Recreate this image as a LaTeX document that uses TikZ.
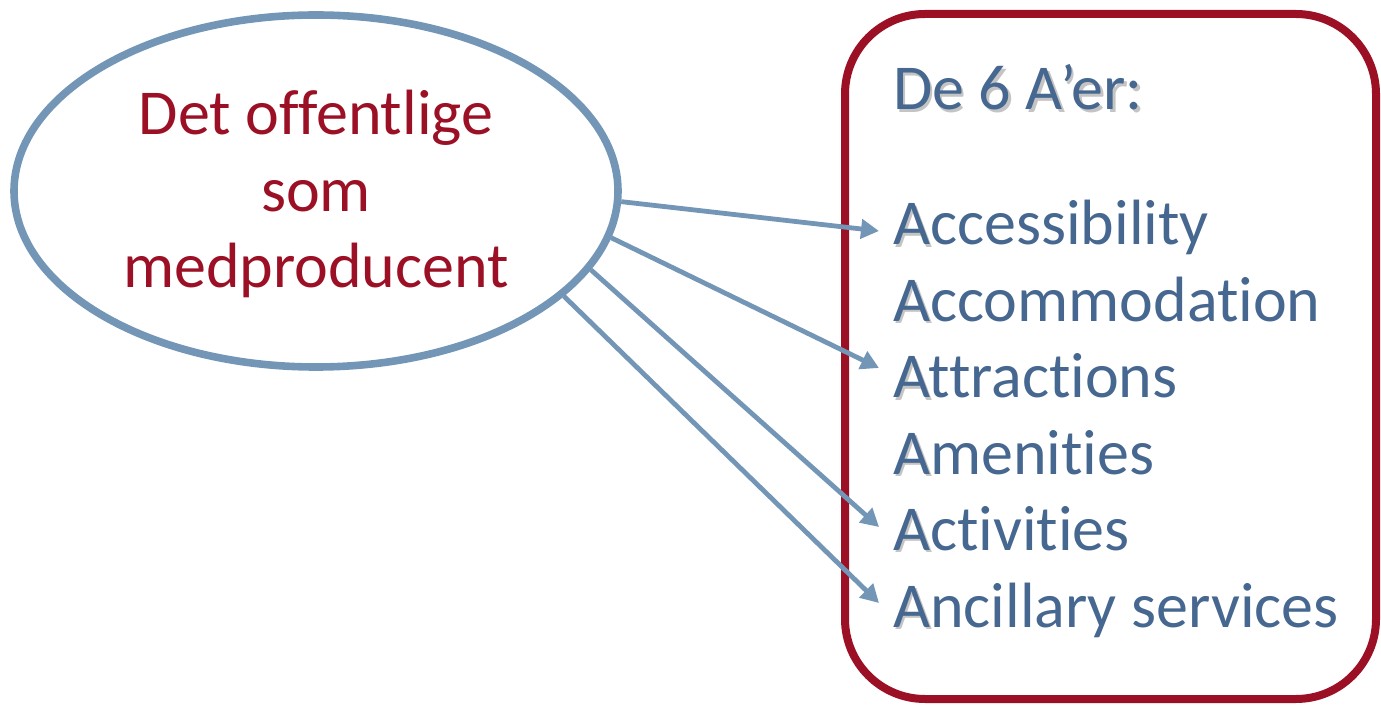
\documentclass[tikz,border=0pt]{standalone}
\usepackage{fontspec}
\setmainfont{Carlito}[Ligatures={CommonOff}]
\usetikzlibrary{arrows.meta,shapes.geometric}
\definecolor{ellblue}{HTML}{7396B7}
\definecolor{darkred}{HTML}{9B1025}
\definecolor{txtblue}{HTML}{46678F}
\definecolor{shadowc}{HTML}{C4C4C4}
\newcommand\shA{\leavevmode\rlap{\kern1.2pt\raisebox{-1.2pt}{\textcolor{shadowc}{A}}}A}
\begin{document}
\begin{tikzpicture}[x=0.5pt,y=-0.5pt,
  bigtext/.style={font=\fontsize{32}{38}\selectfont, inner sep=0pt, outer sep=0pt},
  lefttext/.style={bigtext, text=darkred, anchor=base},
  listtext/.style={bigtext, text=txtblue, anchor=base west},
  conn/.style={draw=ellblue, line width=2.4pt, -{Triangle[length=9pt,width=9.5pt]}}
]
\useasboundingbox (0,0) rectangle (1381,705);
% ellipse
\node[ellipse, draw=ellblue, line width=3.8pt, minimum width=302pt, minimum height=176pt, inner sep=0pt] (ell) at (316,191) {};
\node[lefttext] (l1) at (316,135) {Det offentlige};
\node[lefttext] (l2) at (316,212) {som};
\node[lefttext] (l3) at (316,288) {medproducent};
% box
\draw[darkred, line width=4pt, rounded corners=40pt] (845,14) rectangle (1376,699);
% heading with soft shadow
\node[bigtext, text=shadowc, anchor=base west] (hs) at (895.4,112.4) {De 6 A’er:};
\node[listtext] (h) at (893,110) {De 6 A’er:};
% list
\node[listtext] (a1) at (893,245) {\shA ccessibility};
\node[listtext] (a2) at (893,321.5) {\shA ccommodation};
\node[listtext] (a3) at (893,398) {\shA ttractions};
\node[listtext] (a4) at (893,474) {\shA menities};
\node[listtext] (a5) at (893,550.5) {\shA ctivities};
\node[listtext] (a6) at (893,627) {\shA ncillary services};
% arrow tips
\coordinate (e1) at (879,231);
\coordinate (e3) at (879,368);
\coordinate (e5) at (879,527);
\coordinate (e6) at (879,603);
\draw[conn] (ell.-2.1) -- (e1);
\draw[conn] (ell.-9.3) -- (e3);
\draw[conn] (ell.-16.5) -- (e5);
\draw[conn] (ell.-23.2) -- (e6);
\end{tikzpicture}
\end{document}
